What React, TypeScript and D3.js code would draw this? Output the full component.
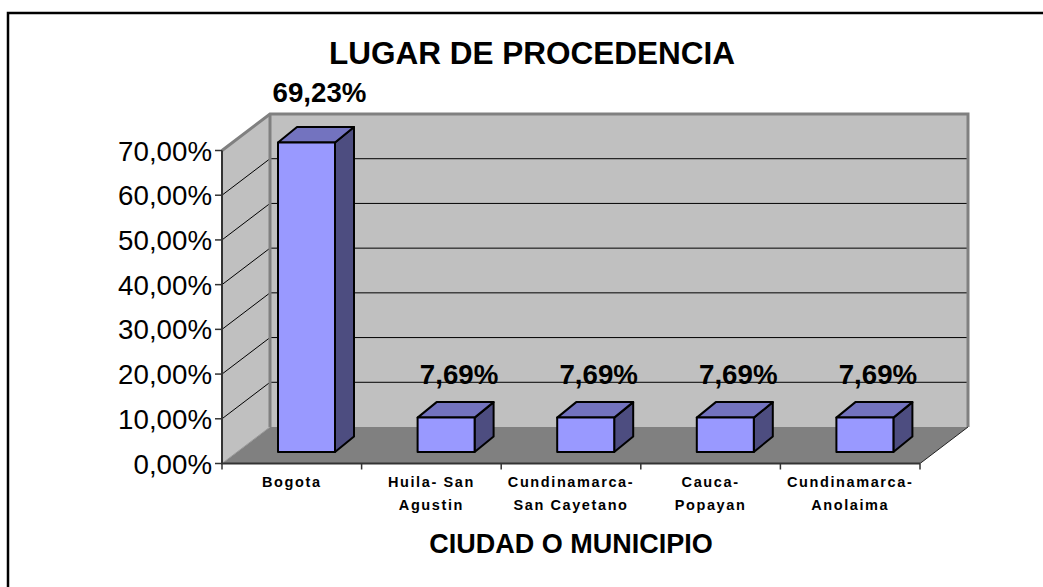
import React from "react";
import * as d3 from "d3";

const categories: string[][] = [
  ["Bogota"],
  ["Huila- San", "Agustin"],
  ["Cundinamarca-", "San Cayetano"],
  ["Cauca-", "Popayan"],
  ["Cundinamarca-", "Anolaima"],
];
const values = [69.23, 7.69, 7.69, 7.69, 7.69];
const valueLabels = ["69,23%", "7,69%", "7,69%", "7,69%", "7,69%"];
const yTicks = [0, 10, 20, 30, 40, 50, 60, 70];
const FONT = "'Liberation Sans', Arial, sans-serif";

const W = 1043, H = 587;
const x = d3.scaleBand<number>().domain(d3.range(categories.length)).range([222, 920]);
const y = d3.scaleLinear().domain([0, 70]).range([463.5, 150.5]);
const labelGap = d3.scaleLinear().domain([7.69, 69.23]).range([34, 40]);
const depth = { dx: 48, dy: -36.5 };
const bar = { inset: 56, width: 57, lift: 11.5, dx: 19, dy: -15.5 };
const poly = (p: [number, number][]) => d3.line()(p) + "Z";

export default function App() {
  const y0 = y(0), yT = y(70), xL = x.range()[0], xR = x.range()[1];
  return (
    <svg width={W} height={H} style={{ position: "absolute", left: 0, top: 0 }} fontFamily={FONT}>
      <rect width={W} height={H} fill="#fff" />
      <path d={`M8 ${H}V13H${W}`} fill="none" stroke="#000" strokeWidth={2.5} />
      <text x={532} y={64} textAnchor="middle" fontSize={31.5} fontWeight="bold">LUGAR DE PROCEDENCIA</text>

      {/* walls and floor */}
      <path d={poly([[xL, y0], [xL + depth.dx, y0 + depth.dy], [xL + depth.dx, yT + depth.dy], [xL, yT]])} fill="#c0c0c0" />
      <path d={poly([[xL + depth.dx, y0 + depth.dy], [xR + depth.dx, y0 + depth.dy], [xR + depth.dx, yT + depth.dy], [xL + depth.dx, yT + depth.dy]])} fill="#c0c0c0" />
      <path d={poly([[xL, y0], [xR, y0], [xR + depth.dx, y0 + depth.dy], [xL + depth.dx, y0 + depth.dy]])} fill="#808080" />

      {yTicks.filter((t) => t > 0 && t < 70).map((t) => (
        <path key={t} d={`M${xL} ${y(t)}L${xL + depth.dx} ${y(t) + depth.dy}H${xR + depth.dx}`} fill="none" stroke="#000" strokeWidth={1} />
      ))}
      <path d={`M${xL} ${yT}L${xL + depth.dx} ${yT + depth.dy}H${xR + depth.dx}V${y0 + depth.dy}`} fill="none" stroke="#808080" strokeWidth={3} />
      <path d={`M${xL + depth.dx} ${yT + depth.dy}V${y0 + depth.dy}`} fill="none" stroke="#808080" strokeWidth={3} />
      <path d={`M${xR} ${y0}L${xR + depth.dx} ${y0 + depth.dy}`} stroke="#222" strokeWidth={1} />
      <path d={`M${xL} ${y0}L${xL + depth.dx} ${y0 + depth.dy}`} stroke="#999" strokeWidth={1} />

      {/* axes */}
      <path d={`M${xL} ${yT}V${y0}H${xR}`} fill="none" stroke="#333" strokeWidth={2} />
      {yTicks.map((t) => (
        <g key={t}>
          <line x1={xL - 7} x2={xL} y1={y(t)} y2={y(t)} stroke="#333" strokeWidth={1.5} />
          <text x={xL - 10} y={y(t) + 10} textAnchor="end" fontSize={27.7}>{t.toFixed(2).replace(".", ",")}%</text>
        </g>
      ))}
      {d3.range(categories.length + 1).map((i) => {
        const tx = xL + i * x.step();
        return <line key={i} x1={tx} x2={tx} y1={y0} y2={y0 + 6} stroke="#333" strokeWidth={1.5} />;
      })}

      {/* bars */}
      {values.map((v, i) => {
        const l = x(i)! + bar.inset, r = l + bar.width;
        const b = y0 - bar.lift, t = y(v) - bar.lift;
        return (
          <g key={i} stroke="#000" strokeWidth={2} strokeLinejoin="round">
            <path d={poly([[r, b], [r + bar.dx, b + bar.dy], [r + bar.dx, t + bar.dy], [r, t]])} fill="#4d4d80" />
            <path d={poly([[l, t], [r, t], [r + bar.dx, t + bar.dy], [l + bar.dx, t + bar.dy]])} fill="#7373bf" />
            <path d={poly([[l, t], [r, t], [r, b], [l, b]])} fill="#9999ff" />
          </g>
        );
      })}
      {values.map((v, i) => (
        <text key={i} x={x(i)! + bar.inset + bar.width / 2 + 13} y={y(v) - bar.lift - labelGap(v)} textAnchor="middle" fontSize={27.7} fontWeight="bold">
          {valueLabels[i]}
        </text>
      ))}

      {categories.map((lines, i) =>
        lines.map((s, j) => (
          <text key={j} x={x(i)! + x.bandwidth() / 2} y={487 + j * 23} textAnchor="middle" fontSize={14.5} fontWeight="bold" letterSpacing={1.6}>{s}</text>
        ))
      )}
      <text x={571} y={553} textAnchor="middle" fontSize={27} fontWeight="bold">CIUDAD O MUNICIPIO</text>
    </svg>
  );
}
